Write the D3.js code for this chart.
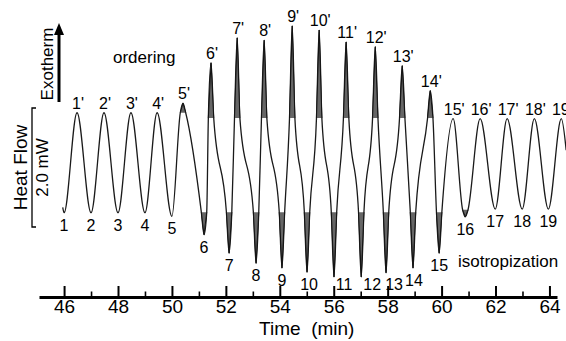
<!DOCTYPE html>
<html>
<head>
<meta charset="utf-8">
<script src="https://cdn.jsdelivr.net/npm/d3@7"></script>
<style>
  body { margin: 0; background: #fff; }
  svg { display: block; font-family: "Liberation Sans", Arial, sans-serif; }
</style>
</head>
<body>
<div id="chart"></div>
<script>
// heat flow trace: time in min, heat flow in mW
const peakLabels = ["1'", "2'", "3'", "4'", "5'", "6'", "7'", "8'", "9'", "10'", "11'", "12'", "13'", "14'", "15'", "16'", "17'", "18'", "19'"]
const peakTimes = [46.48, 47.48, 48.48, 49.45, 50.41, 51.45, 52.42, 53.42, 54.46, 55.46, 56.46, 57.54, 58.54, 59.58, 60.43, 61.43, 62.43, 63.44, 64.44]
const peakValues = [1.92, 1.92, 1.92, 1.92, 2.08, 2.76, 3.18, 3.14, 3.38, 3.31, 3.11, 3.03, 2.71, 2.29, 1.82, 1.82, 1.82, 1.82, 1.82]
// level where the sharp spike leaves the smooth wave (null = no spike)
const peakShoulders = [null, null, null, null, 1.92, 1.83, 1.83, 1.83, 1.83, 1.83, 1.83, 1.83, 1.83, 1.83, null, null, null, null, null]

const troughLabels = ["1", "2", "3", "4", "5", "6", "7", "8", "9", "10", "11", "12", "13", "14", "15", "16", "17", "18", "19"]
const troughTimes = [46.00, 47.00, 48.00, 49.00, 50.00, 51.19, 52.12, 53.12, 54.08, 55.01, 56.01, 57.02, 57.94, 58.94, 59.91, 60.88, 61.99, 62.99, 63.96]
const troughValues = [0.24, 0.24, 0.24, 0.24, 0.18, -0.13, -0.44, -0.61, -0.69, -0.76, -0.84, -0.84, -0.77, -0.69, -0.44, 0.17, 0.30, 0.30, 0.30]
const troughShoulders = [null, null, null, null, null, 0.25, 0.25, 0.25, 0.25, 0.25, 0.25, 0.25, 0.25, 0.25, 0.25, 0.29, null, null, null]

const traceStart = { t: 45.95, v: 0.33 }
const traceEnd = { t: 64.62, v: 1.29 }

const majorTicks = [46, 48, 50, 52, 54, 56, 58, 60, 62, 64]
const minorTicks = [47, 49, 51, 53, 55, 57, 59, 61, 63]
const scaleBar = [0, 2.0]   // mW

const width = 566
const height = 341
const spikeHalf = 0.1       // min
// labels 11-13 sit beside their spike, as in the figure (px)
const troughLabelNudge = [0, 0, 0, 0, 0, 0, 0, 0, 0, 2, 10, 11, 8, 1, 0, 0, 0, 0, 0]

const svg = d3.select('#chart').append('svg')
    .attr('width', width)
    .attr('height', height)

const xScale = d3.scaleLinear()
    .domain([45.07, 64.28])
    .range([39, 557])

const yScale = d3.scaleLinear()
    .domain(scaleBar)
    .range([227, 108])

// build the trace: smooth wave through extremes, spikes get two shoulder points
const trace = [traceStart]
const spikes = []
function addExtreme(t, v, s) {
    if (s == null) {
        trace.push({ t: t, v: v })
        return
    }
    trace.push({ t: t - spikeHalf, v: s }, { t: t, v: v }, { t: t + spikeHalf, v: s })
    spikes.push([[t - spikeHalf, s], [t, v], [t + spikeHalf, s]])
}
troughTimes.forEach((t, i) => {
    addExtreme(t, troughValues[i], troughShoulders[i])
    addExtreme(peakTimes[i], peakValues[i], peakShoulders[i])
})
trace.push(traceEnd)

const line = d3.line()
    .x(d => xScale(d.t))
    .y(d => yScale(d.v))
    .curve(d3.curveMonotoneX)

svg.append('path')
    .datum(trace)
    .attr('d', line)
    .attr('fill', 'none')
    .attr('stroke', '#1a1a1a')
    .attr('stroke-width', 1.3)

// noisy spikes: grey fill, edges only on the two slanted sides
svg.append('g')
    .selectAll('path')
    .data(spikes)
    .enter()
    .append('path')
    .attr('d', d => 'M' + d.map(p => xScale(p[0]) + ',' + yScale(p[1])).join('L'))
    .attr('fill', '#666')
    .attr('stroke', '#111')
    .attr('stroke-width', 1)

// peak and trough labels
svg.append('g')
    .selectAll('text')
    .data(peakLabels)
    .enter()
    .append('text')
    .text(d => d)
    .attr('x', (d, i) => xScale(peakTimes[i]) + 1)
    .attr('y', (d, i) => yScale(peakValues[i]) - 4)
    .attr('text-anchor', 'middle')
    .style('font-size', '16px')

svg.append('g')
    .selectAll('text')
    .data(troughLabels)
    .enter()
    .append('text')
    .text(d => d)
    .attr('x', (d, i) => xScale(troughTimes[i]) + troughLabelNudge[i])
    .attr('y', (d, i) => Math.min(yScale(troughValues[i]) + 18, 290))
    .attr('text-anchor', 'middle')
    .style('font-size', '16px')

svg.append('text').text('ordering')
    .attr('x', 113).attr('y', 63)
    .style('font-size', '17px')

svg.append('text').text('isotropization')
    .attr('x', 458).attr('y', 267)
    .style('font-size', '17px')

// time axis, ticks point up
const xAxis = d3.axisBottom(xScale)
    .tickValues(majorTicks)
    .tickSize(-11)
    .tickSizeOuter(0)
    .tickPadding(2)
    .tickFormat(d3.format('d'))

const axisG = svg.append('g')
    .attr('transform', 'translate(0,297)')
    .call(xAxis)
axisG.select('.domain').attr('stroke', '#000').attr('stroke-width', 3)
axisG.selectAll('.tick line').attr('stroke', '#000').attr('stroke-width', 2)
axisG.selectAll('.tick text')
    .attr('fill', '#000')
    .style('font-size', '19px')
    .style('font-family', '"Liberation Sans", Arial, sans-serif')

const minorAxis = d3.axisBottom(xScale)
    .tickValues(minorTicks)
    .tickSize(-5.5)
    .tickSizeOuter(0)
    .tickFormat('')
const minorG = svg.append('g')
    .attr('transform', 'translate(0,297)')
    .call(minorAxis)
minorG.select('.domain').remove()
minorG.selectAll('.tick line').attr('stroke', '#000').attr('stroke-width', 1.6)

svg.append('text')
    .text('Time  (min)')
    .attr('x', xScale(55))
    .attr('y', 335)
    .attr('text-anchor', 'middle')
    .style('font-size', '19px')
    .style('white-space', 'pre')

// heat flow scale bar
const barX = 32
svg.append('path')
    .attr('d', `M${barX + 4},${yScale(scaleBar[1])}H${barX}V${yScale(scaleBar[0])}H${barX + 4}`)
    .attr('fill', 'none')
    .attr('stroke', '#000')
    .attr('stroke-width', 1.3)

const midY = (yScale(scaleBar[0]) + yScale(scaleBar[1])) / 2
svg.append('text').text('Heat Flow')
    .attr('transform', `translate(27,${midY}) rotate(-90)`)
    .attr('text-anchor', 'middle')
    .style('font-size', '19px')

svg.append('text').text('2.0 mW')
    .attr('transform', `translate(48,${midY}) rotate(-90)`)
    .attr('text-anchor', 'middle')
    .style('font-size', '17px')

// exotherm arrow
svg.append('text').text('Exotherm')
    .attr('transform', 'translate(53,64) rotate(-90)')
    .attr('text-anchor', 'middle')
    .style('font-size', '17px')

svg.append('line')
    .attr('x1', 59).attr('x2', 59)
    .attr('y1', 102).attr('y2', 32)
    .attr('stroke', '#000')
    .attr('stroke-width', 3)
svg.append('path')
    .attr('d', 'M59,23L64,35L54,35Z')
    .attr('fill', '#000')
</script>
</body>
</html>
